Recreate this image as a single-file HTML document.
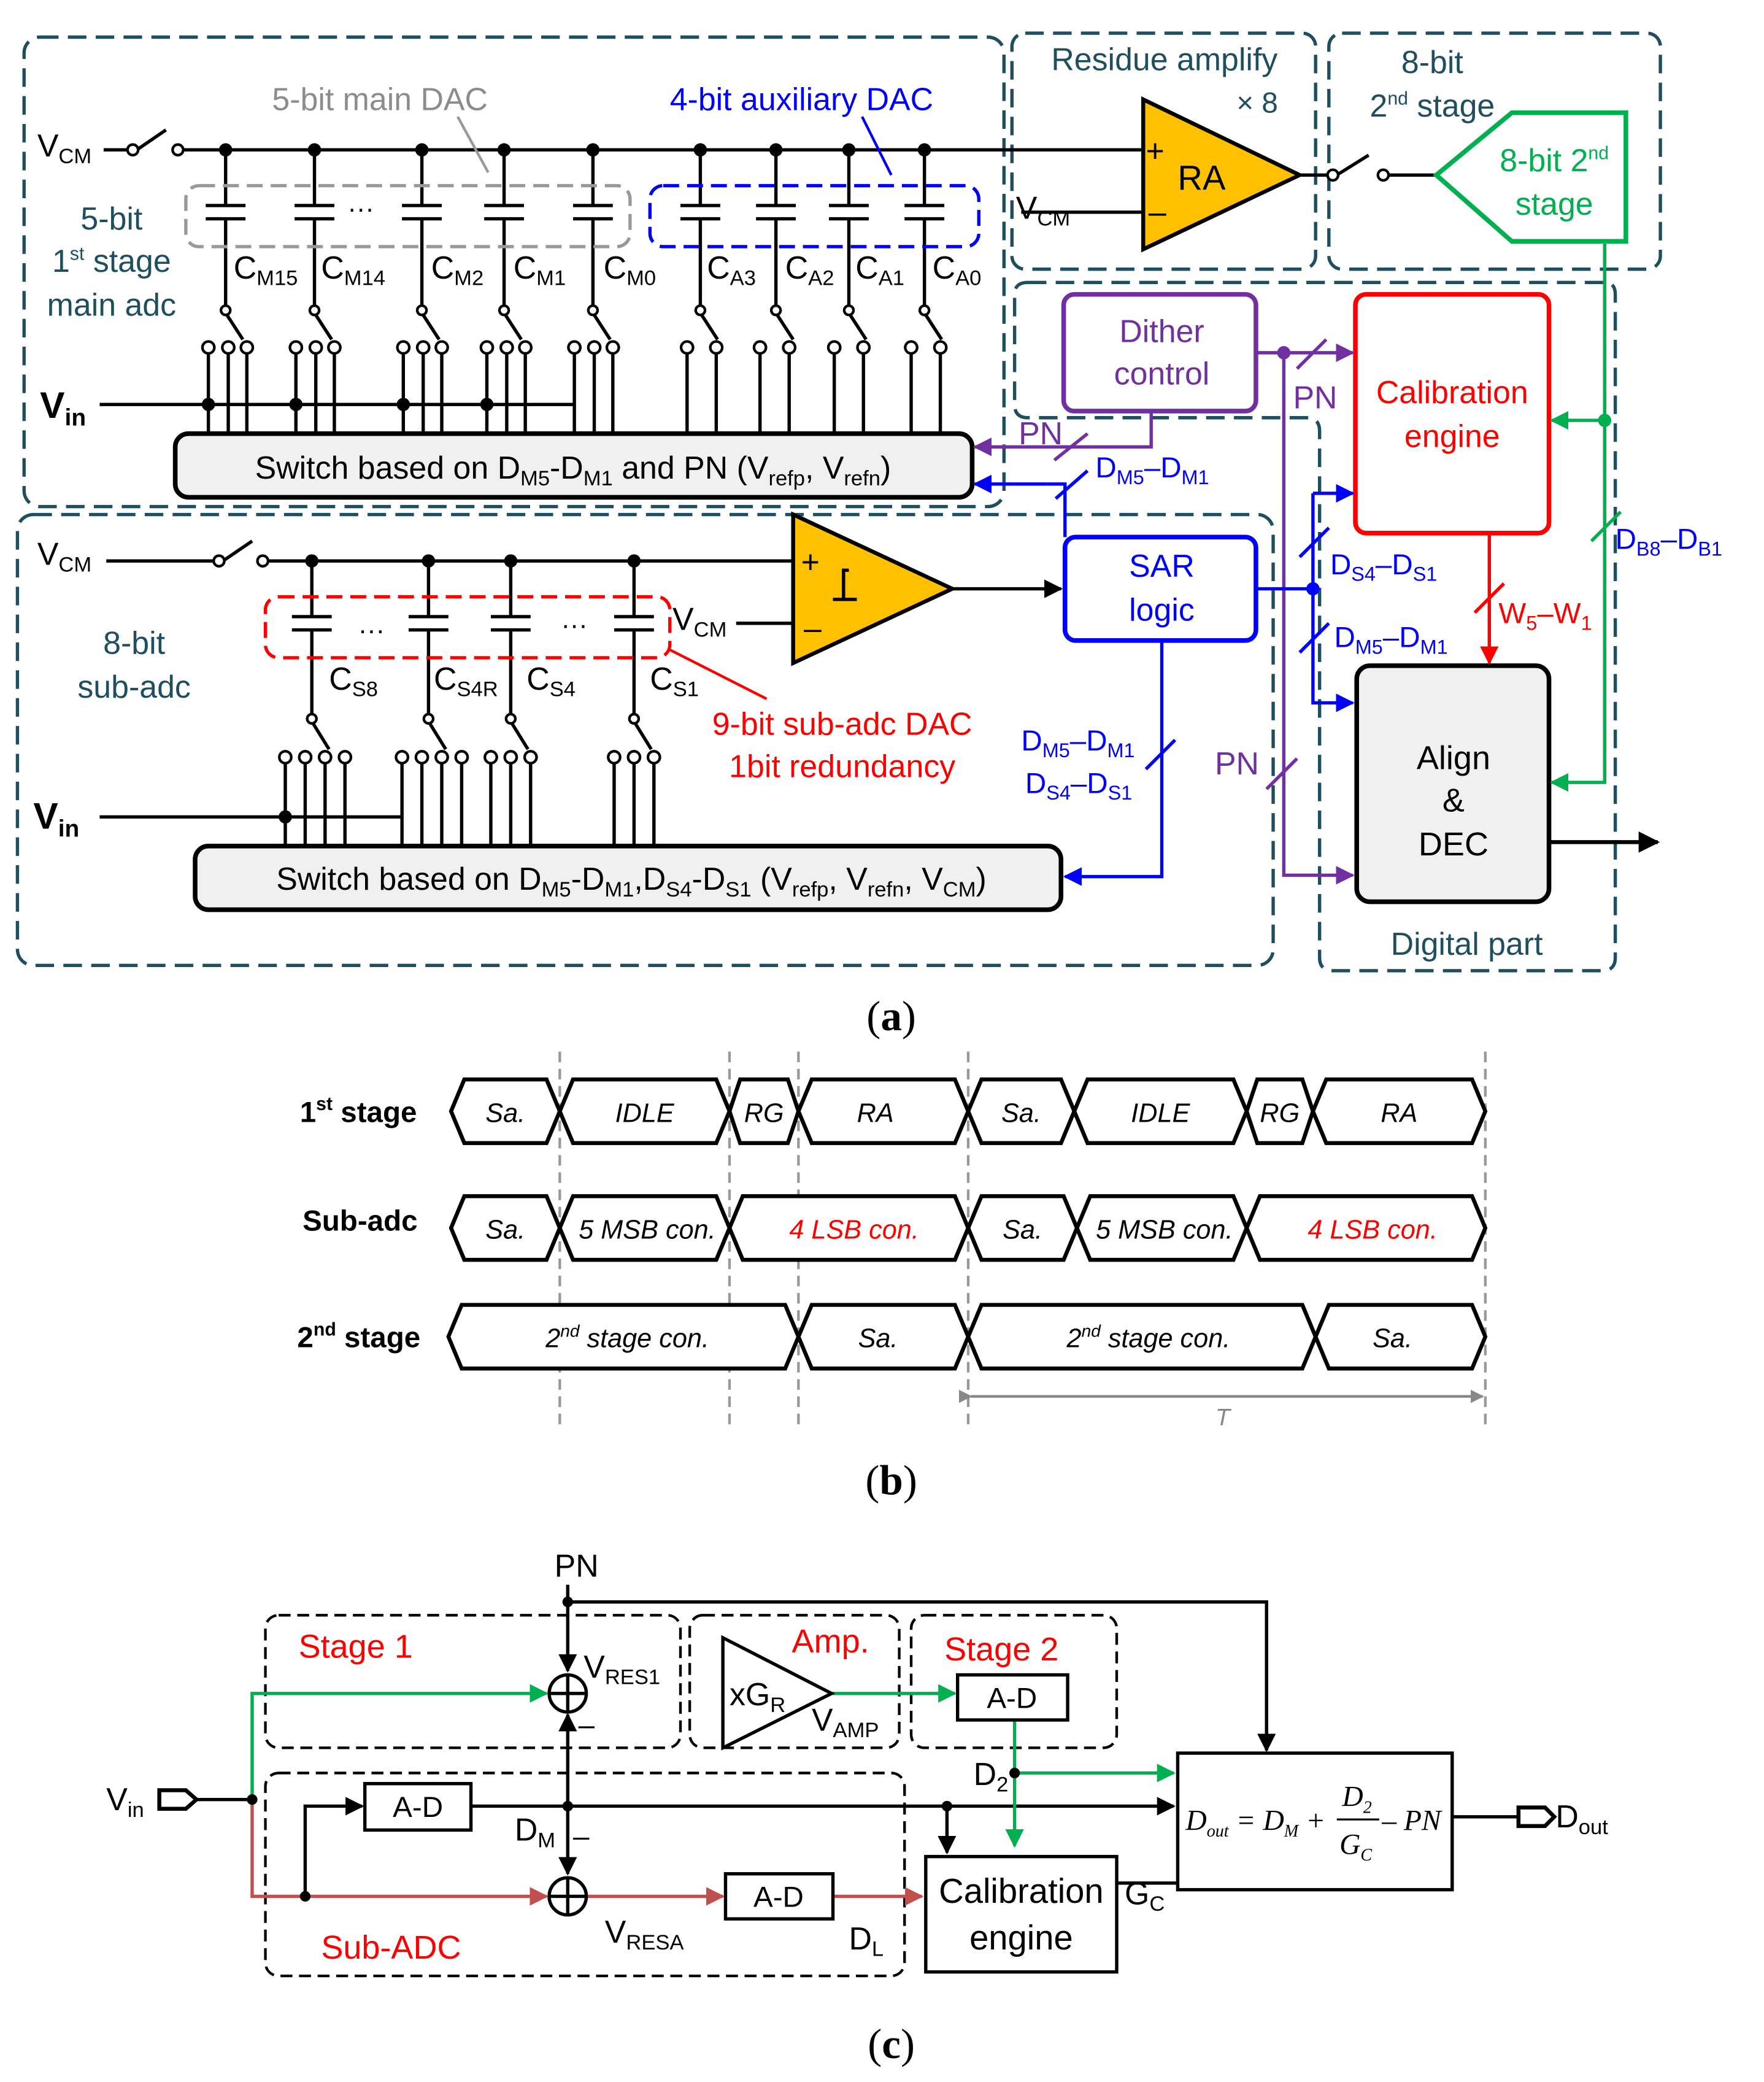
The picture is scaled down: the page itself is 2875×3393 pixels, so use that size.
<!DOCTYPE html>
<html><head><meta charset="utf-8"><style>
html,body{margin:0;padding:0;background:#fff}
svg{display:block}
text{font-family:"Liberation Sans",sans-serif}
text.serif,.serif text{font-family:"Liberation Serif",serif}
</style></head><body>
<svg width="2875" height="3393" viewBox="0 0 1330 1570" xmlns="http://www.w3.org/2000/svg">
<defs>
<marker id="ap" viewBox="0 0 10 10" markerWidth="14" markerHeight="14" refX="9" refY="5" orient="auto" markerUnits="userSpaceOnUse"><path d="M0,0 L10,5 L0,10z" fill="#7030a0"/></marker>
<marker id="ab" viewBox="0 0 10 10" markerWidth="14" markerHeight="14" refX="9" refY="5" orient="auto" markerUnits="userSpaceOnUse"><path d="M0,0 L10,5 L0,10z" fill="#0000ff"/></marker>
<marker id="ag" viewBox="0 0 10 10" markerWidth="14" markerHeight="14" refX="9" refY="5" orient="auto" markerUnits="userSpaceOnUse"><path d="M0,0 L10,5 L0,10z" fill="#00b050"/></marker>
<marker id="ar" viewBox="0 0 10 10" markerWidth="14" markerHeight="14" refX="9" refY="5" orient="auto" markerUnits="userSpaceOnUse"><path d="M0,0 L10,5 L0,10z" fill="#ff0000"/></marker>
<marker id="ab2" viewBox="0 0 10 10" markerWidth="16" markerHeight="16" refX="9" refY="5" orient="auto" markerUnits="userSpaceOnUse"><path d="M0,0 L10,5 L0,10z" fill="#000"/></marker>
<marker id="ac" viewBox="0 0 10 10" markerWidth="14" markerHeight="14" refX="9" refY="5" orient="auto" markerUnits="userSpaceOnUse"><path d="M0,0 L10,5 L0,10z" fill="#000"/></marker>
<marker id="acg" viewBox="0 0 10 10" markerWidth="14" markerHeight="14" refX="9" refY="5" orient="auto" markerUnits="userSpaceOnUse"><path d="M0,0 L10,5 L0,10z" fill="#00b050"/></marker>
<marker id="acr" viewBox="0 0 10 10" markerWidth="14" markerHeight="14" refX="9" refY="5" orient="auto" markerUnits="userSpaceOnUse"><path d="M0,0 L10,5 L0,10z" fill="#c0504d"/></marker>
<marker id="agr" viewBox="0 0 10 10" markerWidth="10" markerHeight="10" refX="9" refY="5" orient="auto" markerUnits="userSpaceOnUse"><path d="M0,0 L10,5 L0,10z" fill="#888"/></marker>
</defs>

<g fill="none" stroke="#1f4e5f" stroke-width="2.5" stroke-dasharray="14,7">
<rect x="18" y="28" width="739" height="354" rx="12"/>
<rect x="763" y="25" width="229" height="178" rx="10"/>
<rect x="1002" y="25" width="250" height="178" rx="10"/>
<path d="M775,213 H1210 Q1218,213 1218,222 V722 Q1218,732 1208,732 H1005 Q995,732 995,722 V325 Q995,315 985,315 H775 Q765,315 765,305 V222 Q765,213 775,213Z"/>
<rect x="13" y="388" width="947" height="340" rx="12"/>
</g>

<g stroke="#000" stroke-width="2.5" fill="none">
<line x1="78" y1="113" x2="100" y2="113"/>
<line x1="103" y1="113" x2="125" y2="98"/>
<line x1="138" y1="113" x2="862" y2="113"/>
<line x1="980" y1="132" x2="1005" y2="132"/>
<line x1="1008" y1="132" x2="1032" y2="117"/>
<line x1="1047" y1="132" x2="1083" y2="132"/>
<line x1="770" y1="160" x2="862" y2="160"/>
</g>
<circle cx="100" cy="113" r="4" fill="#fff" stroke="#000" stroke-width="2"/>
<circle cx="134" cy="113" r="4" fill="#fff" stroke="#000" stroke-width="2"/>
<circle cx="1005" cy="132" r="4" fill="#fff" stroke="#000" stroke-width="2"/>
<circle cx="1043" cy="132" r="4" fill="#fff" stroke="#000" stroke-width="2"/>

<g stroke="#000" stroke-width="2.5" fill="none">
<path d="M170,113V155M155,155H185M155,165H185M170,165V232"/>
<path d="M237,113V155M222,155H252M222,165H252M237,165V232"/>
<path d="M318,113V155M303,155H333M303,165H333M318,165V232"/>
<path d="M380,113V155M365,155H395M365,165H395M380,165V232"/>
<path d="M447,113V155M432,155H462M432,165H462M447,165V232"/>
<path d="M528,113V155M513,155H543M513,165H543M528,165V232"/>
<path d="M585,113V155M570,155H600M570,165H600M585,165V232"/>
<path d="M640,113V155M625,155H655M625,165H655M640,165V232"/>
<path d="M697,113V155M682,155H712M682,165H712M697,165V232"/>
<path d="M170,236L183,256M237,236L250,256M318,236L331,256M380,236L393,256M447,236L460,256M528,236L541,256M585,236L598,256M640,236L653,256M697,236L710,256"/>
<path d="M157,266V327M172,266V327M186,266V327M223,266V327M238,266V327M252,266V327M304,266V327M319,266V327M333,266V327M367,266V327M382,266V327M396,266V327M433,266V327M448,266V327M462,266V327"/>
<path d="M518,266V327M540,266V327M573,266V327M595,266V327M629,266V327M651,266V327M687,266V327M709,266V327"/>
<line x1="75" y1="305" x2="433" y2="305"/>
</g>
<g fill="#fff" stroke="#000" stroke-width="2">
<circle cx="170" cy="234" r="3.5"/><circle cx="237" cy="234" r="3.5"/><circle cx="318" cy="234" r="3.5"/><circle cx="380" cy="234" r="3.5"/><circle cx="447" cy="234" r="3.5"/><circle cx="528" cy="234" r="3.5"/><circle cx="585" cy="234" r="3.5"/><circle cx="640" cy="234" r="3.5"/><circle cx="697" cy="234" r="3.5"/>
<circle cx="157" cy="262" r="4.5"/><circle cx="172" cy="262" r="4.5"/><circle cx="186" cy="262" r="4.5"/>
<circle cx="223" cy="262" r="4.5"/><circle cx="238" cy="262" r="4.5"/><circle cx="252" cy="262" r="4.5"/>
<circle cx="304" cy="262" r="4.5"/><circle cx="319" cy="262" r="4.5"/><circle cx="333" cy="262" r="4.5"/>
<circle cx="367" cy="262" r="4.5"/><circle cx="382" cy="262" r="4.5"/><circle cx="396" cy="262" r="4.5"/>
<circle cx="433" cy="262" r="4.5"/><circle cx="448" cy="262" r="4.5"/><circle cx="462" cy="262" r="4.5"/>
<circle cx="518" cy="262" r="4.5"/><circle cx="540" cy="262" r="4.5"/><circle cx="573" cy="262" r="4.5"/><circle cx="595" cy="262" r="4.5"/>
<circle cx="629" cy="262" r="4.5"/><circle cx="651" cy="262" r="4.5"/><circle cx="687" cy="262" r="4.5"/><circle cx="709" cy="262" r="4.5"/>
</g>
<g fill="#000">
<circle cx="170" cy="113" r="5"/><circle cx="237" cy="113" r="5"/><circle cx="318" cy="113" r="5"/><circle cx="380" cy="113" r="5"/><circle cx="447" cy="113" r="5"/><circle cx="528" cy="113" r="5"/><circle cx="585" cy="113" r="5"/><circle cx="640" cy="113" r="5"/><circle cx="697" cy="113" r="5"/>
<circle cx="157" cy="305" r="5"/><circle cx="223" cy="305" r="5"/><circle cx="304" cy="305" r="5"/><circle cx="367" cy="305" r="5"/>
</g>
<rect x="140" y="140" width="335" height="46" rx="10" fill="none" stroke="#999" stroke-width="2.5" stroke-dasharray="12,6"/>
<rect x="490" y="140" width="248" height="46" rx="10" fill="none" stroke="#0000ff" stroke-width="2.5" stroke-dasharray="12,6"/>
<line x1="345" y1="88" x2="368" y2="130" stroke="#999" stroke-width="2"/>
<line x1="650" y1="88" x2="672" y2="132" stroke="#0000ff" stroke-width="2"/>
<text x="262" y="164" font-size="20">···</text>
<text x="205" y="83" font-size="24" fill="#8c8c8c">5-bit main DAC</text>
<text x="505" y="83" font-size="24" fill="#0000ff">4-bit auxiliary DAC</text>
<g font-size="24">
<text x="176" y="210">C<tspan font-size="16" dy="5">M15</tspan></text>
<text x="242" y="210">C<tspan font-size="16" dy="5">M14</tspan></text>
<text x="325" y="210">C<tspan font-size="16" dy="5">M2</tspan></text>
<text x="387" y="210">C<tspan font-size="16" dy="5">M1</tspan></text>
<text x="455" y="210">C<tspan font-size="16" dy="5">M0</tspan></text>
<text x="533" y="210">C<tspan font-size="16" dy="5">A3</tspan></text>
<text x="592" y="210">C<tspan font-size="16" dy="5">A2</tspan></text>
<text x="645" y="210">C<tspan font-size="16" dy="5">A1</tspan></text>
<text x="703" y="210">C<tspan font-size="16" dy="5">A0</tspan></text>
<text x="28" y="118">V<tspan font-size="16" dy="5">CM</tspan></text>
<text x="28" y="426">V<tspan font-size="16" dy="5">CM</tspan></text>
<text x="766" y="165">V<tspan font-size="16" dy="5">CM</tspan></text>
<text x="507" y="475">V<tspan font-size="16" dy="5">CM</tspan></text>
</g>
<text x="30" y="315" font-size="28" font-weight="bold">V<tspan font-size="18" dy="6">in</tspan></text>
<text x="25" y="625" font-size="28" font-weight="bold">V<tspan font-size="18" dy="6">in</tspan></text>
<g font-size="24" fill="#1f4e5f" text-anchor="middle">
<text x="84" y="173">5-bit</text>
<text x="84" y="205">1<tspan font-size="14" dy="-9">st</tspan><tspan dy="9"> stage</tspan></text>
<text x="84" y="238">main adc</text>
<text x="878" y="53">Residue amplify</text>
<text x="948" y="85" font-size="22">× 8</text>
<text x="1080" y="55">8-bit</text>
<text x="1080" y="88">2<tspan font-size="14" dy="-9">nd</tspan><tspan dy="9">  stage</tspan></text>
<text x="101" y="493">8-bit</text>
<text x="101" y="526">sub-adc</text>
<text x="1106" y="720">Digital part</text>
</g>
<rect x="132" y="327" width="601" height="48" rx="10" fill="#f0f0f0" stroke="#000" stroke-width="3.5"/>
<text x="432" y="361" font-size="24" text-anchor="middle">Switch based on D<tspan font-size="16" dy="5">M5</tspan><tspan dy="-5">-D</tspan><tspan font-size="16" dy="5">M1</tspan><tspan dy="-5"> and PN (V</tspan><tspan font-size="16" dy="5">refp</tspan><tspan dy="-5">, V</tspan><tspan font-size="16" dy="5">refn</tspan><tspan dy="-5">)</tspan></text>

<polygon points="862,75 862,188 980,132" fill="#ffc000" stroke="#000" stroke-width="3"/>
<text x="888" y="143" font-size="26">RA</text>
<text x="864" y="122" font-size="24">+</text>
<text x="866" y="168" font-size="24">–</text>
<polygon points="1083,132 1140,85 1226,85 1226,182 1140,182" fill="#fff" stroke="#00b050" stroke-width="3.5"/>
<text x="1172" y="129" font-size="24" fill="#00b050" text-anchor="middle">8-bit 2<tspan font-size="14" dy="-9">nd</tspan></text>
<text x="1172" y="162" font-size="24" fill="#00b050" text-anchor="middle">stage</text>

<rect x="802" y="222" width="145" height="88" rx="8" fill="#fff" stroke="#7030a0" stroke-width="3.5"/>
<text x="876" y="258" font-size="24" fill="#7030a0" text-anchor="middle">Dither</text>
<text x="876" y="290" font-size="24" fill="#7030a0" text-anchor="middle">control</text>
<rect x="1022" y="222" width="146" height="180" rx="8" fill="#fff" stroke="#ff0000" stroke-width="3.5"/>
<text x="1095" y="304" font-size="24" fill="#ff0000" text-anchor="middle">Calibration</text>
<text x="1095" y="337" font-size="24" fill="#ff0000" text-anchor="middle">engine</text>
<rect x="803" y="405" width="144" height="78" rx="8" fill="#fff" stroke="#0000ff" stroke-width="3.5"/>
<text x="876" y="435" font-size="24" fill="#0000ff" text-anchor="middle">SAR</text>
<text x="876" y="468" font-size="24" fill="#0000ff" text-anchor="middle">logic</text>
<rect x="1023" y="502" width="145" height="178" rx="10" fill="#f0f0f0" stroke="#000" stroke-width="3.5"/>
<text x="1096" y="580" font-size="25" text-anchor="middle">Align</text>
<text x="1096" y="612" font-size="25" text-anchor="middle">&amp;</text>
<text x="1096" y="645" font-size="25" text-anchor="middle">DEC</text>
<line x1="1168" y1="635" x2="1250" y2="635" stroke="#000" stroke-width="3" marker-end="url(#ab2)"/>

<g stroke="#7030a0" stroke-width="2.5" fill="none">
<path d="M947,266 H1020" marker-end="url(#ap)"/>
<path d="M968,266 V660 H1020" marker-end="url(#ap)"/>
<path d="M868,310 V337 H735" marker-end="url(#ap)"/>
<path d="M978,278L1000,256M795,347L820,327M955,595L978,572"/>
</g>
<circle cx="968" cy="266" r="5" fill="#7030a0"/>
<g font-size="24" fill="#7030a0">
<text x="975" y="308">PN</text><text x="768" y="335">PN</text><text x="916" y="584">PN</text>
</g>
<g stroke="#0000ff" stroke-width="2.5" fill="none">
<path d="M947,444 H990"/>
<path d="M990,372 V530 H1020" marker-end="url(#ab)"/>
<path d="M990,372 H1020" marker-end="url(#ab)"/>
<path d="M790,365 H735" marker-end="url(#ab)"/>
<path d="M790,365 H803 V405"/>
<path d="M876,483 V661 H803" marker-end="url(#ab)"/>
<path d="M796,376L820,355M980,420L1002,398M980,492L1002,470M864,580L886,558"/>
</g>
<circle cx="990" cy="444" r="5" fill="#0000ff"/>
<g font-size="22" fill="#0000ff">
<text x="826" y="360">D<tspan font-size="15" dy="5">M5</tspan><tspan dy="-5">–D</tspan><tspan font-size="15" dy="5">M1</tspan></text>
<text x="1003" y="433">D<tspan font-size="15" dy="5">S4</tspan><tspan dy="-5">–D</tspan><tspan font-size="15" dy="5">S1</tspan></text>
<text x="1006" y="488">D<tspan font-size="15" dy="5">M5</tspan><tspan dy="-5">–D</tspan><tspan font-size="15" dy="5">M1</tspan></text>
<text x="770" y="566">D<tspan font-size="15" dy="5">M5</tspan><tspan dy="-5">–D</tspan><tspan font-size="15" dy="5">M1</tspan></text>
<text x="773" y="598">D<tspan font-size="15" dy="5">S4</tspan><tspan dy="-5">–D</tspan><tspan font-size="15" dy="5">S1</tspan></text>
<text x="1218" y="414">D<tspan font-size="15" dy="5">B8</tspan><tspan dy="-5">–D</tspan><tspan font-size="15" dy="5">B1</tspan></text>
</g>
<g stroke="#00b050" stroke-width="2.5" fill="none">
<path d="M1210,182 V590 H1170" marker-end="url(#ag)"/>
<path d="M1210,317 H1170" marker-end="url(#ag)"/>
<path d="M1200,408L1222,386"/>
</g>
<circle cx="1210" cy="317" r="5" fill="#00b050"/>
<g stroke="#ff0000" stroke-width="2.5" fill="none">
<path d="M1123,402 V500" marker-end="url(#ar)"/>
<path d="M1112,462L1134,440"/>
</g>
<text x="1130" y="470" font-size="22" fill="#ff0000">W<tspan font-size="15" dy="5">5</tspan><tspan dy="-5">–W</tspan><tspan font-size="15" dy="5">1</tspan></text>

<g stroke="#000" stroke-width="2.5" fill="none">
<line x1="80" y1="423" x2="165" y2="423"/>
<line x1="168" y1="423" x2="190" y2="408"/>
<line x1="201" y1="423" x2="598" y2="423"/>
<line x1="555" y1="470" x2="598" y2="470"/>
<path d="M718,444 H800" marker-end="url(#ac)"/>
<path d="M235,423V465M220,465H250M220,475H250M235,475V540"/>
<path d="M323,423V465M308,465H338M308,475H338M323,475V540"/>
<path d="M385,423V465M370,465H400M370,475H400M385,475V540"/>
<path d="M478,423V465M463,465H493M463,475H493M478,475V540"/>
<path d="M235,544L248,565M323,544L336,565M385,544L398,565M478,544L491,565"/>
<path d="M215,575V638M230,575V638M245,575V638M260,575V638M303,575V638M318,575V638M333,575V638M348,575V638M370,575V638M385,575V638M400,575V638M463,575V638M478,575V638M493,575V638"/>
<line x1="75" y1="616" x2="303" y2="616"/>
</g>
<g fill="#fff" stroke="#000" stroke-width="2">
<circle cx="235" cy="542" r="3.5"/><circle cx="323" cy="542" r="3.5"/><circle cx="385" cy="542" r="3.5"/><circle cx="478" cy="542" r="3.5"/>
<circle cx="215" cy="571" r="4.5"/><circle cx="230" cy="571" r="4.5"/><circle cx="245" cy="571" r="4.5"/><circle cx="260" cy="571" r="4.5"/>
<circle cx="303" cy="571" r="4.5"/><circle cx="318" cy="571" r="4.5"/><circle cx="333" cy="571" r="4.5"/><circle cx="348" cy="571" r="4.5"/>
<circle cx="370" cy="571" r="4.5"/><circle cx="385" cy="571" r="4.5"/><circle cx="400" cy="571" r="4.5"/>
<circle cx="463" cy="571" r="4.5"/><circle cx="478" cy="571" r="4.5"/><circle cx="493" cy="571" r="4.5"/>
<circle cx="165" cy="423" r="4"/><circle cx="198" cy="423" r="4"/>
</g>
<g fill="#000"><circle cx="235" cy="423" r="5"/><circle cx="323" cy="423" r="5"/><circle cx="385" cy="423" r="5"/><circle cx="478" cy="423" r="5"/><circle cx="215" cy="616" r="5"/></g>
<rect x="200" y="450" width="305" height="46" rx="10" fill="none" stroke="#ff0000" stroke-width="2.5" stroke-dasharray="12,6"/>
<line x1="505" y1="490" x2="578" y2="527" stroke="#ff0000" stroke-width="2"/>
<text x="270" y="482" font-size="20">···</text><text x="423" y="478" font-size="20">···</text>
<g font-size="24">
<text x="248" y="520">C<tspan font-size="16" dy="5">S8</tspan></text>
<text x="327" y="520">C<tspan font-size="16" dy="5">S4R</tspan></text>
<text x="397" y="520">C<tspan font-size="16" dy="5">S4</tspan></text>
<text x="490" y="520">C<tspan font-size="16" dy="5">S1</tspan></text>
</g>
<text x="635" y="554" font-size="24" fill="#ff0000" text-anchor="middle">9-bit sub-adc DAC</text>
<text x="635" y="586" font-size="24" fill="#ff0000" text-anchor="middle">1bit redundancy</text>
<polygon points="598,388 598,500 718,444" fill="#ffc000" stroke="#000" stroke-width="3"/>
<text x="604" y="432" font-size="24">+</text><text x="606" y="482" font-size="24">–</text>
<path d="M628,452 H636 V430 H640 M632,452 H646" stroke="#000" stroke-width="2.5" fill="none"/>
<rect x="147" y="638" width="653" height="48" rx="10" fill="#f0f0f0" stroke="#000" stroke-width="3.5"/>
<text x="476" y="671" font-size="24" text-anchor="middle">Switch based on D<tspan font-size="16" dy="5">M5</tspan><tspan dy="-5">-D</tspan><tspan font-size="16" dy="5">M1</tspan><tspan dy="-5">,D</tspan><tspan font-size="16" dy="5">S4</tspan><tspan dy="-5">-D</tspan><tspan font-size="16" dy="5">S1</tspan><tspan dy="-5"> (V</tspan><tspan font-size="16" dy="5">refp</tspan><tspan dy="-5">, V</tspan><tspan font-size="16" dy="5">refn</tspan><tspan dy="-5">, V</tspan><tspan font-size="16" dy="5">CM</tspan><tspan dy="-5">)</tspan></text>

<text class="serif" x="672" y="777" font-size="32" text-anchor="middle">(<tspan font-weight="bold">a</tspan>)</text>

<!-- (b) -->
<g stroke="#999" stroke-width="2" stroke-dasharray="8,5">
<line x1="422" y1="793" x2="422" y2="1078"/><line x1="550" y1="793" x2="550" y2="1078"/><line x1="602" y1="793" x2="602" y2="1078"/><line x1="730" y1="793" x2="730" y2="1078"/><line x1="1120" y1="793" x2="1120" y2="1078"/>
</g>
<g fill="#fff" stroke="#000" stroke-width="3">
<polygon points="340,838 350,814 412,814 422,838 412,862 350,862"/>
<polygon points="422,838 432,814 540,814 550,838 540,862 432,862"/>
<polygon points="550,838 558,814 594,814 602,838 594,862 558,862"/>
<polygon points="602,838 612,814 720,814 730,838 720,862 612,862"/>
<polygon points="730,838 740,814 800,814 810,838 800,862 740,862"/>
<polygon points="810,838 820,814 930,814 940,838 930,862 820,862"/>
<polygon points="940,838 948,814 982,814 990,838 982,862 948,862"/>
<polygon points="990,838 1000,814 1110,814 1120,838 1110,862 1000,862"/>
<polygon points="340,926 350,902 412,902 422,926 412,950 350,950"/>
<polygon points="422,926 432,902 540,902 550,926 540,950 432,950"/>
<polygon points="550,926 560,902 720,902 730,926 720,950 560,950"/>
<polygon points="730,926 740,902 802,902 812,926 802,950 740,950"/>
<polygon points="812,926 822,902 930,902 940,926 930,950 822,950"/>
<polygon points="940,926 950,902 1110,902 1120,926 1110,950 950,950"/>
<polygon points="338,1008 348,984 592,984 602,1008 592,1032 348,1032"/>
<polygon points="602,1008 612,984 720,984 730,1008 720,1032 612,1032"/>
<polygon points="730,1008 740,984 982,984 992,1008 982,1032 740,1032"/>
<polygon points="992,1008 1002,984 1110,984 1120,1008 1110,1032 1002,1032"/>
</g>
<g font-size="20" font-style="italic" text-anchor="middle">
<text x="381" y="846">Sa.</text><text x="486" y="846">IDLE</text><text x="576" y="846">RG</text><text x="660" y="846">RA</text>
<text x="770" y="846">Sa.</text><text x="875" y="846">IDLE</text><text x="965" y="846">RG</text><text x="1055" y="846">RA</text>
<text x="381" y="934">Sa.</text><text x="488" y="934">5 MSB con.</text><text x="644" y="934" fill="#ff0000">4 LSB con.</text>
<text x="771" y="934">Sa.</text><text x="878" y="934">5 MSB con.</text><text x="1035" y="934" fill="#ff0000">4 LSB con.</text>
<text x="473" y="1016">2<tspan font-size="13" dy="-8">nd</tspan><tspan dy="8"> stage con.</tspan></text><text x="662" y="1016">Sa.</text>
<text x="866" y="1016">2<tspan font-size="13" dy="-8">nd</tspan><tspan dy="8"> stage con.</tspan></text><text x="1050" y="1016">Sa.</text>
</g>
<g font-size="22" font-weight="bold">
<text x="226" y="846">1<tspan font-size="14" dy="-9">st</tspan><tspan dy="9"> stage</tspan></text>
<text x="228" y="928">Sub-adc</text>
<text x="224" y="1016">2<tspan font-size="14" dy="-9">nd</tspan><tspan dy="9"> stage</tspan></text>
</g>
<line x1="732" y1="1053" x2="1118" y2="1053" stroke="#888" stroke-width="2" marker-end="url(#agr)" marker-start="url(#agr)"/>
<text x="922" y="1075" font-size="18" font-style="italic" fill="#888" text-anchor="middle">T</text>
<text class="serif" x="672" y="1127" font-size="32" text-anchor="middle">(<tspan font-weight="bold">b</tspan>)</text>

<!-- (c) -->
<g fill="none" stroke="#000" stroke-width="2" stroke-dasharray="9,5">
<rect x="200" y="1218" width="313" height="100" rx="10"/>
<rect x="520" y="1218" width="158" height="100" rx="10"/>
<rect x="687" y="1218" width="155" height="100" rx="10"/>
<rect x="200" y="1337" width="482" height="153" rx="10"/>
</g>
<g font-size="25" fill="#ff0000">
<text x="225" y="1250">Stage 1</text><text x="597" y="1246">Amp.</text><text x="712" y="1252">Stage 2</text><text x="242" y="1477">Sub-ADC</text>
</g>
<text x="418" y="1189" font-size="24">PN</text>
<g stroke="#000" stroke-width="2.5" fill="none">
<path d="M428,1195 V1260" marker-end="url(#ac)"/>
<path d="M428,1208 H955 V1320" marker-end="url(#ac)"/>
<path d="M428,1362 V1293" marker-end="url(#ac)"/>
<path d="M428,1362 V1413" marker-end="url(#ac)"/>
<path d="M230,1430 V1362 H273" marker-end="url(#ac)"/>
<path d="M355,1362 H885" marker-end="url(#ac)"/>
<path d="M714,1362 V1397" marker-end="url(#ac)"/>
<path d="M842,1420 H888"/>
<path d="M1095,1370 H1145"/>
<path d="M120,1350 H140 L148,1357 L140,1364 H120Z" stroke-width="3"/>
<path d="M1145,1363 H1165 L1172,1370 L1165,1377 H1145Z" stroke-width="3"/>
<path d="M148,1357 H190"/>
</g>
<g stroke="#00b050" stroke-width="2.5" fill="none">
<path d="M190,1357 V1277 H412" marker-end="url(#acg)"/>
<path d="M627,1277 H720" marker-end="url(#acg)"/>
<path d="M765,1297 V1392" marker-end="url(#acg)"/>
<path d="M765,1337 H885" marker-end="url(#acg)"/>
</g>
<g stroke="#c0504d" stroke-width="2.5" fill="none">
<path d="M190,1357 V1430 H412" marker-end="url(#acr)"/>
<path d="M442,1430 H545" marker-end="url(#acr)"/>
<path d="M628,1430 H695" marker-end="url(#acr)"/>
</g>
<g fill="#000"><circle cx="428" cy="1208" r="4"/><circle cx="428" cy="1362" r="4"/><circle cx="714" cy="1362" r="4"/><circle cx="190" cy="1357" r="4"/><circle cx="230" cy="1430" r="4"/><circle cx="765" cy="1337" r="4"/></g>
<g fill="#fff" stroke="#000" stroke-width="2.5">
<circle cx="428" cy="1277" r="14"/><circle cx="428" cy="1430" r="14"/>
<polygon points="545,1235 545,1318 627,1277"/>
<rect x="275" y="1345" width="80" height="35"/>
<rect x="722" y="1263" width="83" height="34"/>
<rect x="547" y="1413" width="81" height="34"/>
<rect x="698" y="1400" width="144" height="87"/>
<rect x="888" y="1322" width="207" height="103"/>
</g>
<path d="M414,1277H442M428,1263V1291M414,1430H442M428,1416V1444" stroke="#000" stroke-width="2.5"/>
<g font-size="22">
<text x="315" y="1370" text-anchor="middle">A-D</text>
<text x="763" y="1288" text-anchor="middle">A-D</text>
<text x="587" y="1438" text-anchor="middle">A-D</text>
<text x="550" y="1286" font-size="24">xG<tspan font-size="16" dy="5">R</tspan></text>
<text x="440" y="1265" font-size="24">V<tspan font-size="16" dy="5">RES1</tspan></text>
<text x="612" y="1305" font-size="24">V<tspan font-size="16" dy="5">AMP</tspan></text>
<text x="456" y="1465" font-size="24">V<tspan font-size="16" dy="5">RESA</tspan></text>
<text x="388" y="1388" font-size="24">D<tspan font-size="16" dy="5">M</tspan></text>
<text x="734" y="1346" font-size="24">D<tspan font-size="16" dy="5">2</tspan></text>
<text x="640" y="1470" font-size="24">D<tspan font-size="16" dy="5">L</tspan></text>
<text x="848" y="1436" font-size="24">G<tspan font-size="16" dy="5">C</tspan></text>
<text x="80" y="1365" font-size="24">V<tspan font-size="16" dy="5">in</tspan></text>
<text x="1173" y="1378" font-size="24">D<tspan font-size="16" dy="5">out</tspan></text>
<text x="436" y="1308" font-size="22">–</text><text x="432" y="1392" font-size="22">–</text>
<text x="770" y="1435" font-size="26" text-anchor="middle">Calibration</text>
<text x="770" y="1470" font-size="26" text-anchor="middle">engine</text>
</g>
<g class="serif" font-style="italic" font-size="22">
<text x="894" y="1380">D<tspan font-size="13" dy="5">out</tspan><tspan dy="-5"> = D</tspan><tspan font-size="13" dy="5">M</tspan><tspan dy="-5"> +</tspan></text>
<text x="1012" y="1362">D<tspan font-size="13" dy="5">2</tspan></text>
<line x1="1008" y1="1372" x2="1040" y2="1372" stroke="#000" stroke-width="1.5"/>
<text x="1010" y="1398">G<tspan font-size="13" dy="5">C</tspan></text>
<text x="1042" y="1380">– PN</text>
</g>
<text class="serif" x="672" y="1552" font-size="32" text-anchor="middle">(<tspan font-weight="bold">c</tspan>)</text>
</svg>
</body></html>
